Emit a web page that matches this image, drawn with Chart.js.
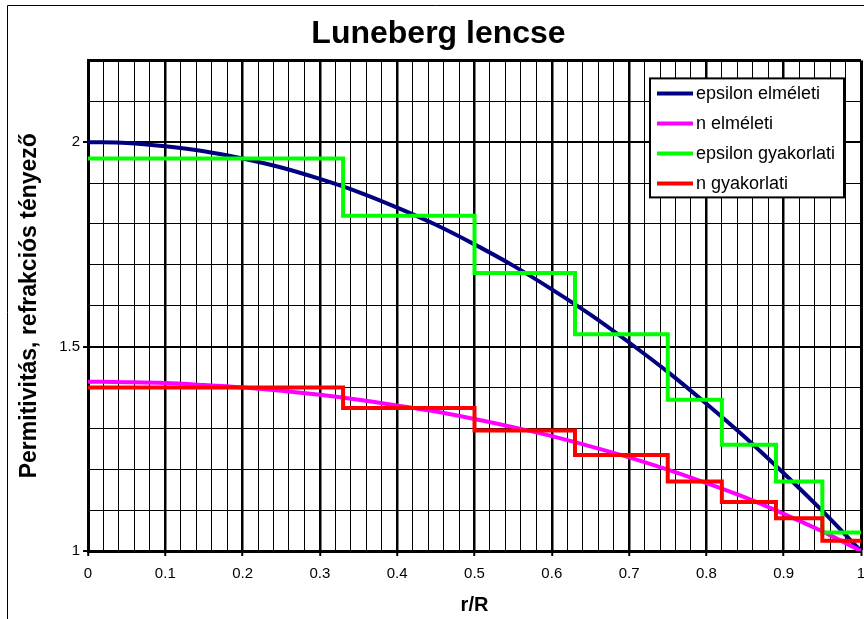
<!doctype html>
<html lang="hu">
  <head>
    <meta charset="UTF-8" />
    <title>Luneberg lencse</title>
    <script src="https://cdn.jsdelivr.net/npm/chart.js"></script>
    <style>
      html, body { margin: 0; padding: 0; background: #fff; }
      #wrap { width: 864px; height: 619px; }
    </style>
  </head>
  <body>
    <div id="wrap"><canvas id="lensChart"></canvas></div>

    <script>
      // r/R positions of the theoretical curves
      const rTheory = [0, 0.05, 0.1, 0.15, 0.2, 0.25, 0.3, 0.35, 0.4, 0.45, 0.5,
        0.55, 0.6, 0.65, 0.7, 0.75, 0.8, 0.85, 0.9, 0.95, 1];
      const epsTheory = [2.0, 1.998, 1.99, 1.978, 1.96, 1.938, 1.91, 1.878, 1.84, 1.798, 1.75,
        1.698, 1.64, 1.578, 1.51, 1.438, 1.36, 1.278, 1.19, 1.098, 1.0];
      const nTheory = [1.414, 1.413, 1.411, 1.406, 1.4, 1.392, 1.382, 1.37, 1.356, 1.341, 1.323,
        1.303, 1.281, 1.256, 1.229, 1.199, 1.166, 1.131, 1.091, 1.048, 1.0];

      // practical (stepped) values, each holds until the next r
      const rSteps = [0, 0.33, 0.5, 0.63, 0.75, 0.82, 0.89, 0.95, 1];
      const epsSteps = [1.96, 1.82, 1.68, 1.53, 1.37, 1.26, 1.17, 1.045, 1.045];
      const nSteps = [1.4, 1.35, 1.295, 1.235, 1.17, 1.12, 1.08, 1.025, 1.025];

      const seriesNames = ["epsilon elméleti", "n elméleti", "epsilon gyakorlati", "n gyakorlati"];
      const seriesColors = ["#000080", "#ff00ff", "#00ff00", "#ff0000"];

      const FONT = "'Liberation Sans', Arial, sans-serif";
      const toPts = (xs, ys) => xs.map((x, i) => ({ x: x, y: ys[i] }));
      const near = (v, step) => Math.abs(v / step - Math.round(v / step)) < 1e-6;

      // white page with the thin frame on the left / top
      const framePlugin = {
        id: "frame",
        beforeDraw(chart) {
          const c = chart.ctx;
          c.save();
          c.fillStyle = "#fff";
          c.fillRect(0, 0, chart.width, chart.height);
          c.strokeStyle = "#000";
          c.lineWidth = 1;
          c.beginPath();
          c.moveTo(7.5, chart.height);
          c.lineTo(7.5, 5.5);
          c.lineTo(chart.width, 5.5);
          c.stroke();
          c.restore();
        },
      };

      // boxed legend inside the plot, top right
      const boxLegend = {
        id: "boxLegend",
        afterDraw(chart) {
          const c = chart.ctx;
          const a = chart.chartArea;
          const x = a.right - 211, y = a.top + 18, w = 194, h = 119;
          c.save();
          c.fillStyle = "#fff";
          c.fillRect(x, y, w, h);
          c.strokeStyle = "#000";
          c.lineWidth = 2;
          c.strokeRect(x, y, w, h);
          c.font = "18px " + FONT;
          c.textBaseline = "middle";
          seriesNames.forEach((name, i) => {
            const ly = y + 15 + i * 30;
            c.strokeStyle = seriesColors[i];
            c.lineWidth = 4;
            c.beginPath();
            c.moveTo(x + 7, ly);
            c.lineTo(x + 43, ly);
            c.stroke();
            c.fillStyle = "#000";
            c.fillText(name, x + 46, ly + 1);
          });
          c.restore();
        },
      };

      new Chart(document.getElementById("lensChart").getContext("2d"), {
        type: "line",
        data: {
          datasets: [
            {
              label: seriesNames[0],
              data: toPts(rTheory, epsTheory),
              borderColor: seriesColors[0],
              borderWidth: 4,
              cubicInterpolationMode: "monotone",
              pointRadius: 0,
              order: 4,
            },
            {
              label: seriesNames[1],
              data: toPts(rTheory, nTheory),
              borderColor: seriesColors[1],
              borderWidth: 4,
              cubicInterpolationMode: "monotone",
              pointRadius: 0,
              order: 3,
            },
            {
              label: seriesNames[2],
              data: toPts(rSteps, epsSteps),
              borderColor: seriesColors[2],
              borderWidth: 4,
              stepped: "before",
              pointRadius: 0,
              order: 2,
            },
            {
              label: seriesNames[3],
              data: toPts(rSteps, nSteps),
              borderColor: seriesColors[3],
              borderWidth: 4,
              stepped: "before",
              pointRadius: 0,
              order: 1,
            },
          ],
        },
        options: {
          responsive: true,
          maintainAspectRatio: false,
          animation: false,
          layout: { padding: { left: 16, right: 3, top: 0, bottom: 0 } },
          plugins: {
            legend: { display: false },
            tooltip: { enabled: false },
            title: {
              display: true,
              text: "Luneberg lencse",
              color: "#000",
              font: { family: FONT, size: 32, weight: "bold" },
              padding: { top: 15, bottom: 7 },
            },
          },
          scales: {
            x: {
              type: "linear",
              min: 0,
              max: 1,
              afterFit: (s) => { s.height = 68; s.paddingRight = 0; s.paddingLeft = 0; },
              border: { color: "#000", width: 3 },
              grid: {
                color: "#000",
                lineWidth: (ctx) => (ctx.tick && near(ctx.tick.value, 0.1) ? (ctx.tick.value >= 1 ? 3 : 2.5) : 1),
                tickLength: 5,
                tickColor: (ctx) => (ctx.tick && near(ctx.tick.value, 0.1) ? "#000" : "rgba(0,0,0,0)"),
                tickWidth: 2,
              },
              ticks: {
                stepSize: 0.02,
                maxTicksLimit: 100,
                autoSkip: false,
                maxRotation: 0,
                padding: 9,
                color: "#000",
                font: { family: FONT, size: 15 },
                callback: (v) => (near(v, 0.1) ? String(Math.round(v * 10) / 10) : ""),
              },
              title: {
                display: true,
                text: "r/R",
                color: "#000",
                font: { family: FONT, size: 20, weight: "bold" },
                padding: { top: 0, bottom: 2 },
              },
            },
            y: {
              min: 1,
              max: 2.2,
              afterFit: (s) => { s.width = 72; },
              border: { color: "#000", width: 3 },
              grid: {
                color: "#000",
                lineWidth: (ctx) => (ctx.tick && (near(ctx.tick.value, 0.5) || ctx.tick.value > 2.15) ? (ctx.tick.value > 2.15 ? 3 : 2) : 1),
                tickLength: 5,
                tickColor: (ctx) => (ctx.tick && near(ctx.tick.value, 0.5) ? "#000" : "rgba(0,0,0,0)"),
                tickWidth: 2,
              },
              ticks: {
                stepSize: 0.1,
                maxTicksLimit: 50,
                autoSkip: false,
                padding: 3,
                color: "#000",
                font: { family: FONT, size: 15 },
                callback: (v) => (near(v, 0.5) ? String(Math.round(v * 10) / 10) : ""),
              },
              title: {
                display: true,
                text: "Permitivitás, refrakciós tényező",
                color: "#000",
                font: { family: FONT, size: 23, weight: "bold" },
                padding: { top: 0, bottom: 0 },
              },
            },
          },
        },
        plugins: [framePlugin, boxLegend],
      });
    </script>
  </body>
</html>
